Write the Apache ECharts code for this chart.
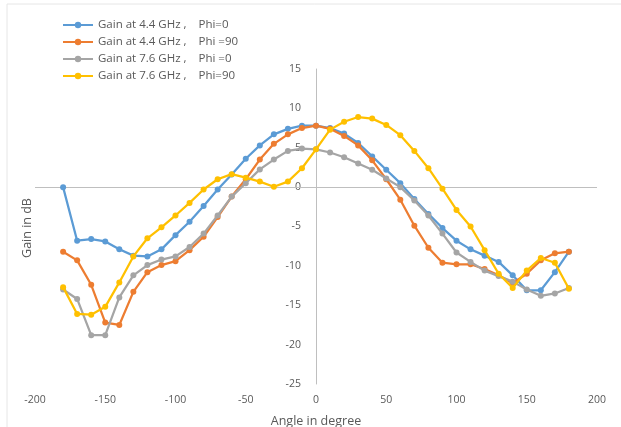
<!DOCTYPE html>
<html>
<head>
<meta charset="utf-8">
<script src="https://cdn.jsdelivr.net/npm/echarts@6/dist/echarts.min.js"></script>
<style>
html,body{margin:0;padding:0;background:#fff;}
#chart{width:621px;height:427px;}
</style>
</head>
<body>
<div id="chart"></div>
<script>
// Angles (degrees)
const angles = [-180,-170,-160,-150,-140,-130,-120,-110,-100,-90,-80,-70,-60,-50,-40,-30,-20,-10,0,10,20,30,40,50,60,70,80,90,100,110,120,130,140,150,160,170,180];

// Series names
const seriesNames = [
  "Gain at 4.4 GHz ,    Phi=0",
  "Gain at 4.4 GHz ,    Phi =90",
  "Gain at 7.6 GHz ,    Phi =0",
  "Gain at 7.6 GHz ,    Phi=90"
];

// Gain values (dB)
const gain44Phi0 = [0.0,-6.8,-6.6,-6.9,-7.9,-8.7,-8.8,-7.9,-6.1,-4.4,-2.4,-0.3,1.6,3.6,5.3,6.7,7.4,7.8,7.8,7.5,6.8,5.6,3.9,2.2,0.5,-1.5,-3.4,-5.2,-6.8,-7.9,-8.7,-9.5,-11.2,-13.1,-13.1,-10.8,-8.2];
const gain44Phi90 = [-8.2,-9.3,-12.4,-17.2,-17.5,-13.3,-10.8,-9.9,-9.4,-8.0,-6.3,-3.8,-1.2,1.0,3.5,5.5,6.7,7.5,7.8,7.4,6.5,5.3,3.4,1.0,-1.6,-4.9,-7.7,-9.6,-9.8,-9.8,-10.4,-11.2,-12.2,-11.0,-9.3,-8.4,-8.2];
const gain76Phi0 = [-13.0,-14.2,-18.8,-18.8,-14.0,-11.2,-9.9,-9.2,-8.8,-7.6,-5.9,-3.6,-1.2,0.5,2.25,3.5,4.6,4.9,4.8,4.4,3.8,3.0,2.2,1.1,0.0,-1.7,-3.6,-5.9,-8.3,-9.5,-10.6,-11.3,-12.0,-13.0,-13.8,-13.5,-12.8];
const gain76Phi90 = [-12.7,-16.1,-16.2,-15.2,-12.1,-8.8,-6.5,-5.1,-3.6,-2.0,-0.3,1.0,1.65,1.2,0.7,0.05,0.7,2.4,4.8,7.3,8.3,8.9,8.7,7.9,6.6,4.6,2.4,-0.2,-2.9,-5.0,-8.0,-11.0,-12.8,-10.6,-9.0,-9.6,-12.9];

const xTicks = {min:-200, max:200, interval:50};
const yTicks = {min:-25, max:15, interval:5};

const colors = ['#5B9BD5','#ED7D31','#A5A5A5','#FFC000'];
const allData = [gain44Phi0, gain44Phi90, gain76Phi0, gain76Phi90];

const font = 'Open Sans';
const textColor = '#595959';

const gridLeft = 35, gridRight = 24;
const plotWidth = 621 - gridLeft - gridRight;
// place the vertical axis at x = 0 (inside the plot)
const yAxisOffset = -plotWidth * (0 - xTicks.min) / (xTicks.max - xTicks.min);

const series = allData.map((vals, i) => ({
  name: seriesNames[i],
  type: 'line',
  data: angles.map((a, j) => [a, vals[j]]),
  symbol: 'circle',
  symbolSize: 6,
  showSymbol: true,
  lineStyle: {width: 2.25, color: colors[i]},
  itemStyle: {color: colors[i]},
  z: 3 + i,
  markLine: i === 0 ? {
    silent: true,
    symbol: ['none','none'],
    label: {show: false},
    lineStyle: {color: '#bfbfbf', width: 1, type: 'solid'},
    data: [{yAxis: 0}],
    z: 1
  } : undefined
}));

const chart = echarts.init(document.getElementById('chart'), null, {renderer: 'canvas'});
chart.setOption({
  animation: false,
  backgroundColor: '#ffffff',
  color: colors,
  grid: {left: gridLeft, right: gridRight, top: 69, bottom: 43, containLabel: false, outerBoundsMode: 'none'},
  legend: {
    orient: 'vertical',
    left: 57,
    top: 14,
    itemWidth: 30,
    itemHeight: 8,
    itemGap: 5,
    textStyle: {fontFamily: font, fontSize: 11.5, color: textColor},
    data: seriesNames
  },
  xAxis: {
    type: 'value',
    min: xTicks.min, max: xTicks.max, interval: xTicks.interval,
    axisLine: {show: false, onZero: false},
    axisTick: {show: false},
    splitLine: {show: false},
    axisLabel: {fontFamily: font, fontSize: 10.5, color: textColor, margin: 11},
    name: 'Angle in degree',
    nameLocation: 'middle',
    nameGap: 31,
    nameTextStyle: {fontFamily: font, fontSize: 12.5, color: textColor}
  },
  yAxis: {
    type: 'value',
    position: 'left',
    offset: yAxisOffset,
    min: yTicks.min, max: yTicks.max, interval: yTicks.interval,
    axisLine: {show: true, onZero: false, lineStyle: {color: '#bfbfbf', width: 1}},
    axisTick: {show: false},
    splitLine: {show: false},
    axisLabel: {fontFamily: font, fontSize: 10.5, color: textColor, margin: 15}
  },
  graphic: [
    {
      type: 'rect',
      shape: {x: 7, y: 4, width: 640, height: 450},
      style: {fill: 'none', stroke: '#e6e6e6', lineWidth: 1},
      silent: true, z: -1
    },
    {
      type: 'text',
      x: 27, y: 228,
      rotation: Math.PI / 2,
      style: {text: 'Gain in dB', fill: textColor, font: '12.5px "Open Sans"', align: 'center', verticalAlign: 'middle'}
    }
  ],
  series: series
});
</script>
</body>
</html>
